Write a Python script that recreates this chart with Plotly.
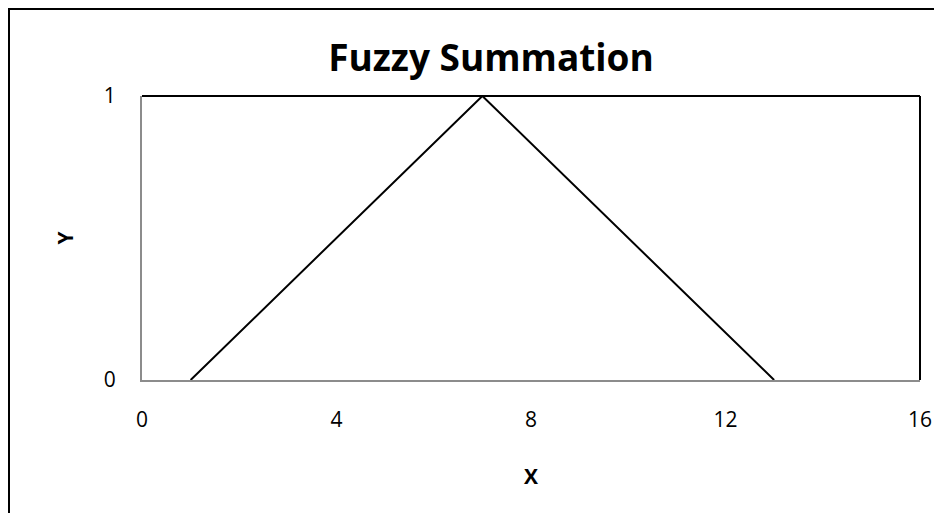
import plotly.graph_objects as go

x_vals = [1, 7, 13]
y_vals = [0, 1, 0]
x_ticks = [0, 4, 8, 12, 16]
y_ticks = [0, 1]

W, H = 942, 513
L, T = 134, 88
pw, ph = 778, 284
R = W - L - pw
B = H - T - ph

def px(x):
    return (x - L) / pw

def py(y):
    return (H - B - y) / ph

fig = go.Figure()
fig.add_trace(go.Scatter(x=x_vals, y=y_vals, mode="lines",
                         line=dict(color="black", width=2), showlegend=False,
                         hoverinfo="skip"))

font = "Open Sans, Liberation Sans, sans-serif"
fig.update_layout(
    width=W, height=H,
    margin=dict(l=L, r=R, t=T, b=B),
    paper_bgcolor="white", plot_bgcolor="white",
    title=dict(text="<b>Fuzzy Summation</b>", x=px(483), xanchor="center",
               xref="paper",
               y=1 - 50 / H, yanchor="middle",
               font=dict(family=font, size=37, color="black")),
    xaxis=dict(range=[0, 16], tickvals=x_ticks, showgrid=False, zeroline=False,
               showline=True, linecolor="#8c8c8c", linewidth=2, ticks="",
               tickfont=dict(family=font, size=21, color="black"),
               ticklabelstandoff=20,
               title=dict(text="<b>X</b>", font=dict(family=font, size=21, color="black"),
                          standoff=37)),
    yaxis=dict(range=[0, 1], tickvals=y_ticks, showgrid=False, zeroline=False,
               showline=True, linecolor="#8c8c8c", linewidth=2, ticks="",
               tickfont=dict(family=font, size=21, color="black"),
               ticklabelstandoff=20,
               title=dict(text="<b>Y</b>", font=dict(family=font, size=21, color="black"),
                          standoff=24)),
    shapes=[
        dict(type="line", xref="paper", yref="paper", x0=0, x1=1, y0=1, y1=1,
             line=dict(color="black", width=2)),
        dict(type="line", xref="paper", yref="paper", x0=1, x1=1, y0=0, y1=1,
             line=dict(color="black", width=2)),
        dict(type="rect", xref="paper", yref="paper",
             x0=px(1), x1=px(960), y0=py(540), y1=py(1),
             line=dict(color="black", width=2), fillcolor="rgba(0,0,0,0)"),
    ],
)

fig.write_html("out.html")
